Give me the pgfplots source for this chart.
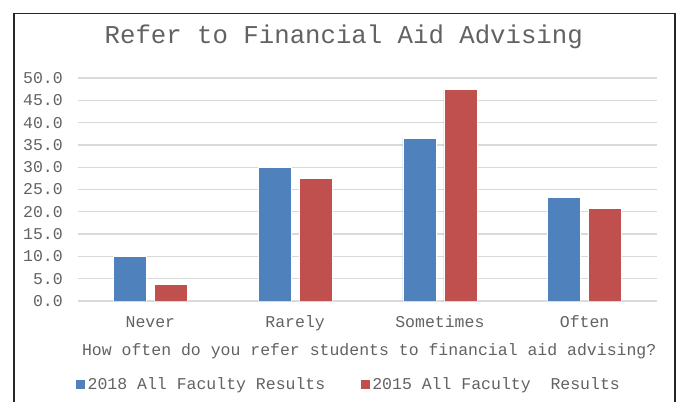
\documentclass[border=0pt]{standalone}
\usepackage{fontspec}
\setmainfont{Liberation Mono}
\usepackage{pgfplots}
\pgfplotsset{compat=1.18}
\definecolor{barblue}{HTML}{4F81BD}
\definecolor{barred}{HTML}{C0504D}
\definecolor{txtgray}{HTML}{626262}
\definecolor{gridgray}{HTML}{D9D9D9}
\begin{document}
\begin{tikzpicture}
\path[use as bounding box] (0,0) rectangle (681bp,402bp);
\draw[black!85, line width=1.3bp] (14bp,0) -- (14bp,388.7bp) -- (675bp,388.7bp) -- (675bp,0);
\begin{axis}[
  at={(78bp,101bp)}, anchor=south west,
  scale only axis,
  width=579bp, height=223bp,
  xmin=-0.5, xmax=3.5,
  ymin=0, ymax=50,
  ybar=8bp, bar width=33bp,
  xtick={0,1,2,3},
  xticklabels={Never,Rarely,Sometimes,Often},
  ytick={0,5,...,50},
  major tick length=0pt,
  axis line style={draw=none},
  ymajorgrids,
  major grid style={gridgray, line width=1.3bp},
  font=\fontsize{16.5bp}{20bp}\selectfont,
  every tick label/.append style={txtgray},
  yticklabel style={anchor=east, inner sep=0pt, xshift=-15bp,
    /pgf/number format/.cd, fixed, fixed zerofill, precision=1,
    assume math mode=true},
  xticklabel style={anchor=base, inner sep=0pt, yshift=-26bp},
  xlabel={How often do you refer students to financial aid advising?},
  xlabel style={at={(axis description cs:0.503,0)}, anchor=base,
    yshift=-54bp, inner sep=0pt, txtgray},
  title={Refer to Financial Aid Advising},
  title style={at={(axis description cs:0.459,1)}, anchor=base,
    yshift=29bp, inner sep=0pt, txtgray,
    font=\fontsize{25.7bp}{30bp}\selectfont},
  legend columns=2,
  legend image code/.code={\fill[#1, draw=none] (0bp,-4.5bp) rectangle (9bp,4.5bp);},
  legend style={draw=none, fill=none, inner sep=0pt,
    at={(axis description cs:0,0)}, anchor=west,
    xshift=-2bp, yshift=-83bp,
    text=txtgray,
    nodes={inner xsep=2.5bp, inner ysep=0pt},
    /tikz/every even column/.append style={column sep=33bp}},
  legend cell align=left,
]
\addplot[fill=barblue, draw=white, line width=0.5bp]
  coordinates {(0,10.0) (1,30.0) (2,36.5) (3,23.3)};
\addlegendentry{2018 All Faculty Results}
\addplot[fill=barred, draw=white, line width=0.5bp]
  coordinates {(0,3.7) (1,27.5) (2,47.4) (3,20.7)};
\addlegendentry{2015 All Faculty~~Results}
\end{axis}
\end{tikzpicture}
\end{document}
